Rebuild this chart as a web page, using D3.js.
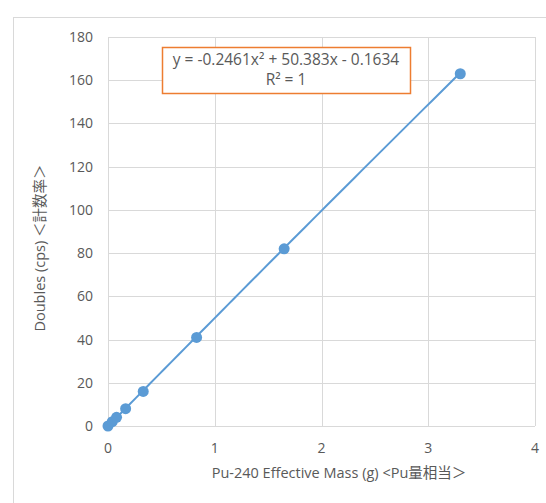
<!DOCTYPE html>
<html>
<head>
<meta charset="utf-8">
<script src="https://cdn.jsdelivr.net/npm/d3@7"></script>
<style>
  body { margin: 0; background: #fff; }
  svg text { font-family: "Open Sans", "Noto Sans CJK JP", sans-serif; fill: #595959; }
</style>
</head>
<body>
<div id="chart"></div>
<script>
// Measured points (effective mass g, doubles cps)
const massValues = [0, 0.04, 0.08, 0.165, 0.33, 0.83, 1.65, 3.3];
const doublesValues = [0, 2, 4, 8, 16, 41, 82, 163];
const xTicks = [0, 1, 2, 3, 4];
const yTicks = [0, 20, 40, 60, 80, 100, 120, 140, 160, 180];
const fitCoef = [-0.2461, 50.383, -0.1634];
const fitLabel = ['y = -0.2461x² + 50.383x - 0.1634', 'R² = 1'];

const width = 546, height = 503;
const margin = { left: 108, right: 11, top: 37, bottom: 77 };

const svg = d3.select('#chart').append('svg')
    .attr('width', width)
    .attr('height', height);

// Outer chart frame
svg.append('rect')
    .attr('x', 13.5).attr('y', 17.5)
    .attr('width', 600).attr('height', 600)
    .attr('fill', 'none')
    .attr('stroke', '#d9d9d9');

const x = d3.scaleLinear().domain([0, 4]).range([margin.left, width - margin.right]);
const y = d3.scaleLinear().domain([0, 180]).range([height - margin.bottom, margin.top]);

// Gridlines
svg.append('g').selectAll('line')
    .data(yTicks)
    .enter().append('line')
    .attr('x1', x(0)).attr('x2', x(4))
    .attr('y1', d => Math.round(y(d)) + 0.5)
    .attr('y2', d => Math.round(y(d)) + 0.5)
    .attr('stroke', '#d9d9d9');

svg.append('g').selectAll('line')
    .data(xTicks)
    .enter().append('line')
    .attr('y1', y(0)).attr('y2', y(180))
    .attr('x1', d => Math.round(x(d)) + 0.5)
    .attr('x2', d => Math.round(x(d)) + 0.5)
    .attr('stroke', '#d9d9d9');

// Tick labels
svg.append('g').selectAll('text')
    .data(yTicks)
    .enter().append('text')
    .attr('x', 93)
    .attr('y', d => y(d) + 5)
    .attr('text-anchor', 'end')
    .attr('font-size', '14px')
    .text(d => d);

svg.append('g').selectAll('text')
    .data(xTicks)
    .enter().append('text')
    .attr('x', d => x(d))
    .attr('y', 453)
    .attr('text-anchor', 'middle')
    .attr('font-size', '14px')
    .text(d => d);

// Axis titles
svg.append('text')
    .attr('transform', 'translate(45,' + 248 + ') rotate(-90)')
    .attr('text-anchor', 'middle')
    .attr('font-size', '14.5px')
    .text('Doubles (cps) ＜計数率＞');

svg.append('text')
    .attr('x', 339)
    .attr('y', 478)
    .attr('text-anchor', 'middle')
    .attr('font-size', '14.5px')
    .text('Pu-240 Effective Mass (g) <Pu量相当＞');

// Polynomial trendline
const fit = v => fitCoef[0] * v * v + fitCoef[1] * v + fitCoef[2];
const xMin = d3.min(massValues), xMax = d3.max(massValues);
const fitPts = d3.range(0, 51).map(i => xMin + (xMax - xMin) * i / 50);

svg.append('path')
    .datum(fitPts)
    .attr('fill', 'none')
    .attr('stroke', '#5b9bd5')
    .attr('stroke-width', 2)
    .attr('d', d3.line().x(d => x(d)).y(d => y(fit(d))));

// Markers
svg.append('g').selectAll('circle')
    .data(massValues.map((m, i) => [m, doublesValues[i]]))
    .enter().append('circle')
    .attr('cx', d => x(d[0]))
    .attr('cy', d => y(d[1]))
    .attr('r', 5.5)
    .attr('fill', '#5b9bd5');

// Equation box
const box = svg.append('g');
box.append('rect')
    .attr('x', 162.5).attr('y', 47.5)
    .attr('width', 248).attr('height', 46)
    .attr('fill', '#fff')
    .attr('stroke', '#ed7d31')
    .attr('stroke-width', 1.5);
box.selectAll('text')
    .data(fitLabel)
    .enter().append('text')
    .attr('x', 286)
    .attr('y', (d, i) => 65 + i * 20)
    .attr('text-anchor', 'middle')
    .attr('font-size', '15.5px')
    .text(d => d);
</script>
</body>
</html>
